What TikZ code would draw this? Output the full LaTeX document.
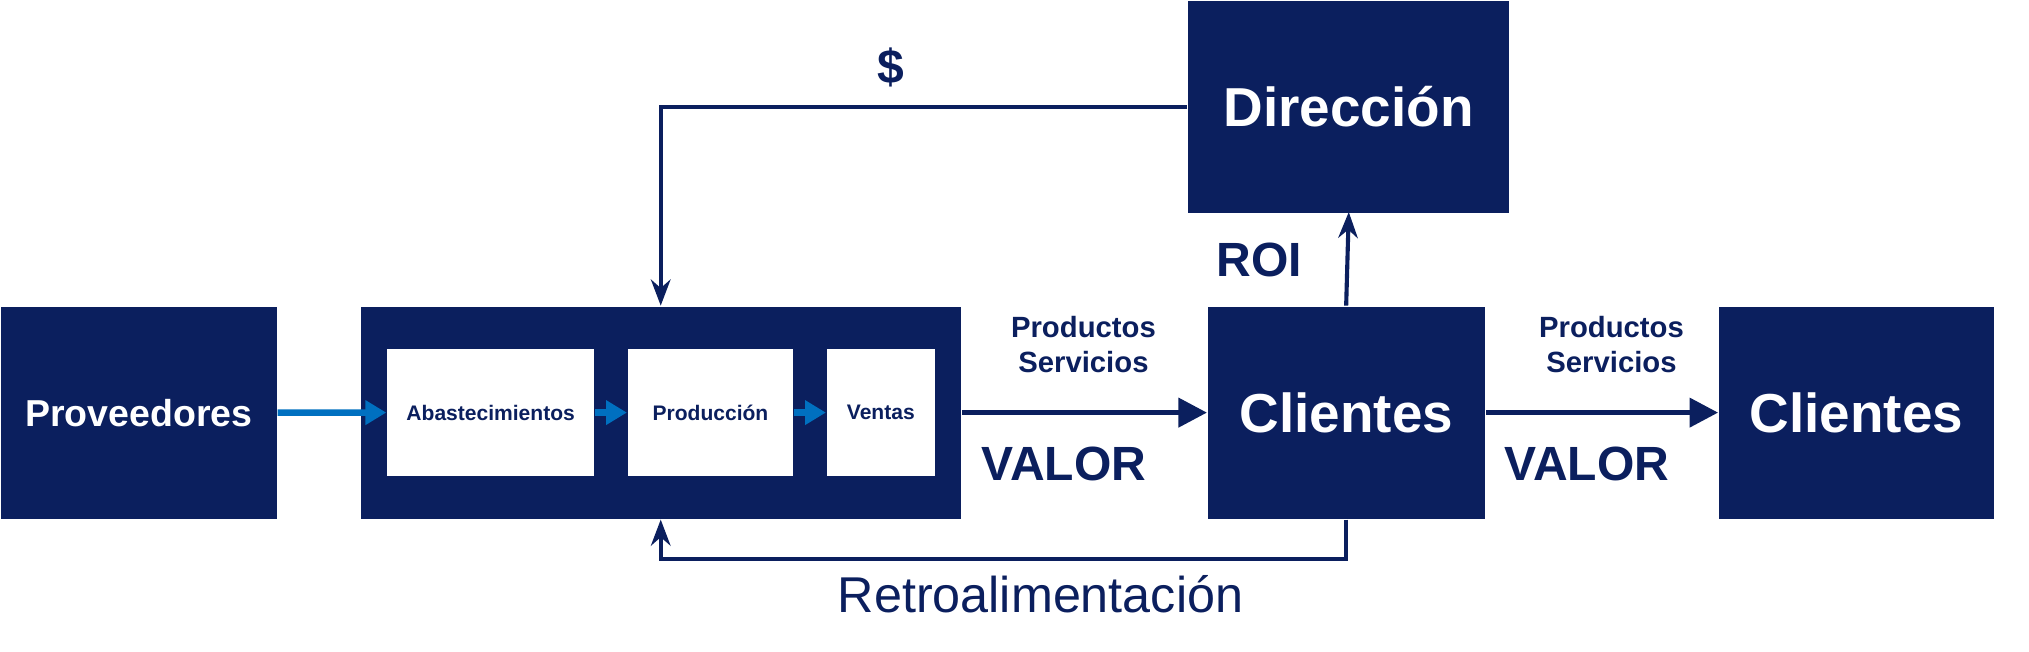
\documentclass[tikz,border=0pt]{standalone}
\usepackage{fontspec}
\setmainfont{Liberation Sans}
\usetikzlibrary{arrows.meta}
\definecolor{navy}{HTML}{0B1F5E}
\definecolor{azul}{HTML}{0070C0}
\begin{document}
\begin{tikzpicture}[x=0.01cm, y=-0.01cm]
        %style
        \tikzset{darkbox/.style = {draw=none, fill=navy, text=white, font=\bfseries}}
        \tikzset{whitebox/.style = {draw=none, fill=white, text=navy, font=\bfseries\fontsize{4.6}{5}\selectfont}}
        \tikzset{flow/.style = {draw=navy, line width=1.2pt, -{Triangle[length=2.2mm, width=2.2mm]}}}
        \tikzset{thin flow/.style = {draw=navy, line width=0.9pt, -{Stealth[length=2mm]}}}
        \tikzset{blue flow/.style = {draw=azul, line width=1.4pt, -{Triangle[length=1.6mm, width=1.8mm]}}}
        \tikzset{lbl/.style = {text=navy, font=\bfseries\fontsize{6.4}{7.6}\selectfont, align=center}}
        \useasboundingbox (0,0) rectangle (1560,501);
        % boxes
        \node[darkbox] (prov) at (0,235) [anchor=north west, minimum width=2.12cm, minimum height=1.63cm] {\fontsize{8.2}{9}\selectfont Proveedores};
        \node[darkbox] (emp)  at (277,235) [anchor=north west, minimum width=4.61cm, minimum height=1.63cm] {};
        \node[whitebox] (abas) at (297,268) [anchor=north west, minimum width=1.59cm, minimum height=0.97cm] {Abastecimientos};
        \node[whitebox] (prod) at (482,268) [anchor=north west, minimum width=1.27cm, minimum height=0.97cm] {Producción};
        \node[whitebox] (vent) at (635,268) [anchor=north west, minimum width=0.83cm, minimum height=0.97cm] {Ventas};
        \node[darkbox] (cli1) at (928,235) [anchor=north west, minimum width=2.13cm, minimum height=1.63cm] {\fontsize{12}{14}\selectfont Clientes};
        \node[darkbox] (cli2) at (1321,235) [anchor=north west, minimum width=2.11cm, minimum height=1.63cm] {\fontsize{12}{14}\selectfont Clientes};
        \node[darkbox] (dir)  at (913,0) [anchor=north west, minimum width=2.46cm, minimum height=1.63cm] {\fontsize{12}{14}\selectfont Dirección};
        % blue arrows
        \draw[blue flow] (prov.east) -- (abas.west);
        \draw[blue flow] (abas.east) -- (prod.west);
        \draw[blue flow] (prod.east) -- (vent.west);
        % value arrows
        \draw[flow] (emp.east) -- (cli1.west);
        \draw[flow] (cli1.east) -- (cli2.west);
        \node[lbl] (ps1) at (833,265) {Productos\\Servicios};
        \node[lbl] (ps2) at (1239,265) {Productos\\Servicios};
        \node[lbl, font=\bfseries\fontsize{10.5}{12}\selectfont] (val1) at (818,357) {VALOR};
        \node[lbl, font=\bfseries\fontsize{10.5}{12}\selectfont] (val2) at (1220,357) {VALOR};
        % ROI and money
        \draw[thin flow] (cli1.north -| 1035,0) -- (1037,163);
        \node[lbl, font=\bfseries\fontsize{10.5}{12}\selectfont] (roi) at (968,200) {ROI};
        \coordinate (c1) at (508,82);
        \draw[thin flow] (dir.west |- c1) -- (c1) -- (emp.north -| c1);
        \node[lbl, font=\bfseries\fontsize{10.5}{12}\selectfont] (money) at (685,52) {\$};
        % feedback
        \coordinate (c2) at (1035,430);
        \draw[thin flow] (cli1.south -| c2) -- (c2) -- (c2 -| c1) -- (emp.south -| c1);
        \node[text=navy, font=\fontsize{11}{13}\selectfont] (retro) at (800,457) {Retroalimentación};
\end{tikzpicture}
\end{document}
